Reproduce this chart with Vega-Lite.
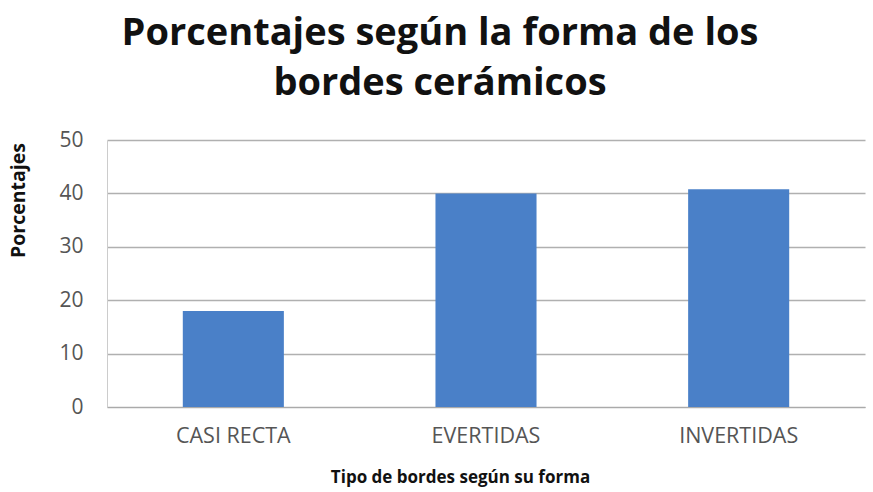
{
  "$schema": "https://vega.github.io/schema/vega-lite/v6.json",
  "width": 758,
  "height": 267,
  "autosize": "none",
  "padding": {"left": 107, "top": 140, "right": 8, "bottom": 85},
  "background": "white",
  "title": {
    "text": ["Porcentajes según la forma de  los", "bordes cerámicos"],
    "font": "Open Sans",
    "fontSize": 38,
    "fontWeight": "bold",
    "color": "#111111",
    "lineHeight": 50,
    "anchor": "middle",
    "dx": -46,
    "offset": 26
  },
  "data": {
    "values": [
      {"tipo": "CASI RECTA", "pct": 18.0},
      {"tipo": "EVERTIDAS", "pct": 40.0},
      {"tipo": "INVERTIDAS", "pct": 40.8}
    ]
  },
  "mark": {"type": "bar", "color": "#4A80C8"},
  "encoding": {
    "x": {
      "field": "tipo",
      "type": "nominal",
      "sort": null,
      "scale": {"paddingInner": 0.6, "paddingOuter": 0.3},
      "axis": {
        "title": "Tipo de bordes según su forma",
        "titleFont": "Open Sans",
        "titleFontSize": 17,
        "titleFontWeight": "bold",
        "titleColor": "#111111",
        "titleBaseline": "alphabetic",
        "titleX": 353,
        "titleY": 75,
        "labelAngle": 0,
        "labelFont": "Open Sans",
        "labelFontSize": 21.5,
        "labelColor": "#555555",
        "labelPadding": 18,
        "ticks": false,
        "domainColor": "#aaaaaa",
        "grid": false
      }
    },
    "y": {
      "field": "pct",
      "type": "quantitative",
      "scale": {"domain": [0, 50], "nice": false},
      "axis": {
        "title": "Porcentajes",
        "titleFont": "Open Sans",
        "titleFontSize": 19.5,
        "titleFontWeight": "bold",
        "titleColor": "#111111",
        "titleBaseline": "alphabetic",
        "titleX": -83,
        "titleY": 60,
        "values": [0, 10, 20, 30, 40, 50],
        "labelFont": "Open Sans",
        "labelFontSize": 21,
        "labelColor": "#555555",
        "labelPadding": 24,
        "ticks": false,
        "domainColor": "#cccccc",
        "gridColor": "#b0b0b0",
        "gridWidth": 1.5
      }
    }
  },
  "config": {"view": {"stroke": null}}
}
